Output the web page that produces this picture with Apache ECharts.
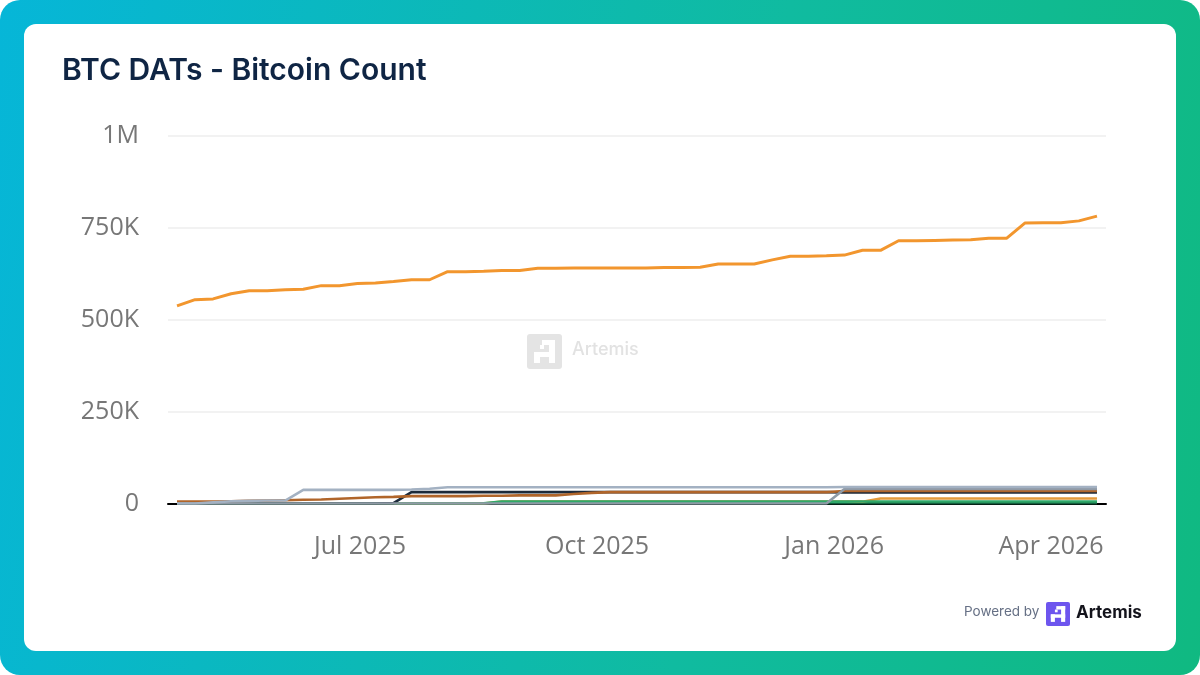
<!DOCTYPE html>
<html>
<head>
<meta charset="utf-8">
<title>BTC DATs - Bitcoin Count</title>
<script src="https://cdn.jsdelivr.net/npm/echarts@6/dist/echarts.min.js"></script>
<style>
html, body { margin: 0; padding: 0; background: #fff; }
#frame { position: absolute; left: 0; top: 0; width: 1200px; height: 675px; border-radius: 20px;
    background: linear-gradient(100deg, #06b6d8 0%, #10bba0 60%, #10b981 100%); }
#card { position: absolute; left: 24px; top: 24px; width: 1152px; height: 627px; border-radius: 12px; background: #fff; }
#main { position: absolute; left: 0; top: 0; width: 1200px; height: 675px; }
</style>
</head>
<body>
<div id="frame"><div id="card"></div></div>
<div id="main"></div>
<script>
// weekly points, Mondays
var firstWeek = '2025-04-21';
var weekCount = 52;

var tickDates = ['2025-07-01', '2025-10-01', '2026-01-01', '2026-04-01'];
var tickLabels = ['Jul 2025', 'Oct 2025', 'Jan 2026', 'Apr 2026'];

var mainHolder = [537000, 554000, 556000, 570000, 578000, 578000, 581000, 582000, 592000, 592000,
    598000, 599000, 603000, 608000, 608000, 630000, 630000, 631000, 633000, 633000,
    639000, 639000, 640000, 640000, 640000, 640000, 640000, 641000, 641000, 642000,
    651000, 651000, 651000, 662000, 672000, 672000, 673000, 675000, 688000, 688000,
    714000, 714000, 715000, 716000, 717000, 721000, 721000, 762000, 763000, 763000,
    768000, 781000];
var greySeries = [0, 0, 3000, 6000, 7000, 8000, 8000, 37000, 37000, 37000,
    37000, 37000, 37000, 38000, 40000, 44000, 44000, 44000, 44000, 44000,
    44000, 44000, 44000, 44000, 44000, 44000, 44000, 44000, 44000, 44000,
    44000, 44000, 44000, 44000, 44000, 44000, 44000, 45000, 45000, 45000,
    45000, 45000, 45000, 45000, 45000, 45000, 45000, 45000, 45000, 45000,
    45000, 45000];
var slateSeries = [0, 0, 0, 0, 0, 0, 0, 0, 0, 0,
    0, 0, 0, 0, 0, 0, 0, 0, 0, 0,
    0, 0, 0, 0, 0, 0, 0, 0, 0, 0,
    0, 0, 0, 0, 0, 0, 0, 39500, 39500, 39500,
    39500, 39500, 39500, 39500, 39500, 39500, 39500, 39500, 39500, 39500,
    39500, 39500];
var brownSeries = [5000, 5000, 5000, 6000, 7000, 8000, 9000, 10000, 11000, 13000,
    15000, 17000, 18000, 20000, 20000, 20000, 20000, 21000, 21000, 22000,
    22000, 22000, 26000, 29000, 31000, 31000, 31000, 31000, 31000, 31000,
    31000, 31000, 31000, 31000, 31000, 31000, 31000, 34000, 34000, 34000,
    34000, 34000, 34000, 34000, 34000, 34000, 34000, 34000, 34000, 34000,
    34000, 34000];
var navySeries = [0, 0, 0, 0, 0, 0, 0, 0, 0, 0,
    0, 0, 1000, 31000, 31000, 31000, 31000, 31000, 31000, 31000,
    31000, 31000, 31000, 31000, 31000, 31000, 31000, 31000, 31000, 31000,
    31000, 31000, 31000, 31000, 31000, 31000, 31000, 30000, 30000, 30000,
    30000, 30000, 30000, 30000, 30000, 30000, 30000, 30000, 30000, 30000,
    30000, 30000];
var goldSeries = [0, 0, 0, 0, 0, 0, 0, 0, 0, 0,
    0, 0, 0, 0, 0, 0, 0, 0, 5000, 5000,
    5000, 5000, 5000, 5000, 5000, 5000, 5000, 5000, 5000, 5000,
    5000, 5000, 5000, 5000, 5000, 5000, 5000, 5000, 5000, 13500,
    13500, 13500, 13500, 13500, 13500, 13500, 13500, 13500, 13500, 13500,
    13500, 13500];
var greenSeries = [0, 0, 0, 0, 0, 0, 0, 0, 0, 0,
    0, 0, 0, 0, 0, 0, 0, 500, 5000, 5000,
    5000, 5000, 5000, 5000, 5000, 5000, 5000, 5000, 5000, 5000,
    5000, 5000, 5000, 5000, 5000, 5000, 5000, 5000, 5500, 5500,
    5500, 5500, 5500, 5500, 5500, 5500, 5500, 5500, 5500, 5500,
    5500, 5500];
var darkGreenSeries = [0, 0, 0, 0, 0, 0, 500, 500, 500, 500,
    500, 500, 500, 500, 500, 500, 500, 500, 500, 500,
    500, 500, 500, 500, 500, 500, 500, 500, 500, 500,
    500, 500, 500, 500, 500, 500, 500, 500, 500, 500,
    500, 500, 500, 500, 500, 500, 500, 500, 500, 500,
    500, 500];

var DAY = 86400000;
var startTime = +new Date(firstWeek);
var weeks = [];
for (var i = 0; i < weekCount; i++) weeks.push(startTime + i * 7 * DAY);
var tickTimes = tickDates.map(function (d) { return +new Date(d); });

function makeLine(name, values, color, width) {
    return {
        name: name,
        type: 'line',
        showSymbol: false,
        silent: true,
        lineStyle: { color: color, width: width || 2.6, cap: 'butt' },
        data: values.map(function (v, idx) { return [weeks[idx], v]; })
    };
}

// little block "A" of the Artemis logo
function logo(x, y, size, bg, fg, z) {
    var u = size / 35;
    function r(a, b, w, h) {
        return { type: 'rect', z: z, silent: true, shape: { x: x + a * u, y: y + b * u, width: w * u, height: h * u }, style: { fill: fg } };
    }
    return [
        { type: 'rect', z: z, silent: true, shape: { x: x, y: y, width: size, height: size, r: 3 * u }, style: { fill: bg } },
        r(15, 6, 13, 5), r(22, 6, 6, 23), r(7, 18, 21, 5), r(7, 18, 6, 11), r(13, 11, 4, 4)
    ];
}

var chart = echarts.init(document.getElementById('main'), null, { renderer: 'canvas' });
var axisFont = '"Open Sans", sans-serif';
var option = {
    animation: false,
    backgroundColor: 'transparent',
    title: {
        text: 'BTC DATs - Bitcoin Count',
        left: 57,
        top: 51,
        textStyle: { fontFamily: 'Inter, sans-serif', fontSize: 30, fontWeight: 600, color: '#0f2544' }
    },
    grid: { left: 168, top: 135.5, width: 938, height: 368 },
    xAxis: {
        type: 'value',
        scale: true,
        min: startTime - 3.5 * DAY,
        max: weeks[weekCount - 1] + 3.5 * DAY,
        splitLine: { show: false },
        axisTick: { show: false },
        axisLine: { lineStyle: { color: '#000', width: 2 } },
        axisLabel: {
            customValues: tickTimes,
            margin: 31,
            fontFamily: axisFont,
            fontSize: 25,
            color: '#777',
            formatter: function (value) {
                var idx = tickTimes.indexOf(value);
                // last label is pushed back inside the plot
                return idx === tickLabels.length - 1 ? '{last|' + tickLabels[idx] + '}' : tickLabels[idx];
            },
            rich: {
                last: { fontFamily: axisFont, fontSize: 25, color: '#777', padding: [0, 30, 0, 0] }
            }
        }
    },
    yAxis: {
        type: 'value',
        min: 0,
        max: 1000000,
        interval: 250000,
        axisLine: { show: false },
        axisTick: { show: false },
        splitLine: { lineStyle: { color: '#eeeeee', width: 1.5 } },
        axisLabel: {
            margin: 29,
            fontFamily: axisFont,
            fontSize: 25,
            color: '#777',
            formatter: function (v) {
                if (v === 0) return '0';
                return v >= 1000000 ? v / 1000000 + 'M' : v / 1000 + 'K';
            }
        }
    },
    series: [
        makeLine('Dark green', darkGreenSeries, '#14603f'),
        makeLine('Gold', goldSeries, '#e39a3c'),
        makeLine('Green', greenSeries, '#2fa96a'),
        makeLine('Navy', navySeries, '#1c2a3a'),
        makeLine('Brown', brownSeries, '#b0652a'),
        makeLine('Slate', slateSeries, '#8f9aa6'),
        makeLine('Grey', greySeries, '#a3b1c2'),
        makeLine('Main', mainHolder, '#f2962e', 3)
    ],
    graphic: logo(527, 334, 35, '#e4e4e4', '#ffffff', 1)
        .concat(logo(1046, 602, 24, '#6d55ee', '#ffffff', 10))
        .concat([
            { type: 'text', z: 1, silent: true, left: 572, top: 341, style: { text: 'Artemis', fontFamily: 'Inter, sans-serif', fontSize: 18, fontWeight: 500, fill: '#e2e2e2' } },
            { type: 'text', z: 10, silent: true, left: 964, top: 605, style: { text: 'Powered by', fontFamily: 'Inter, sans-serif', fontSize: 13.5, fill: '#667085' } },
            { type: 'text', z: 10, silent: true, left: 1076, top: 604, style: { text: 'Artemis', fontFamily: 'Inter, sans-serif', fontSize: 17, fontWeight: 700, fill: '#14141c' } }
        ])
};
chart.setOption(option);
</script>
</body>
</html>
